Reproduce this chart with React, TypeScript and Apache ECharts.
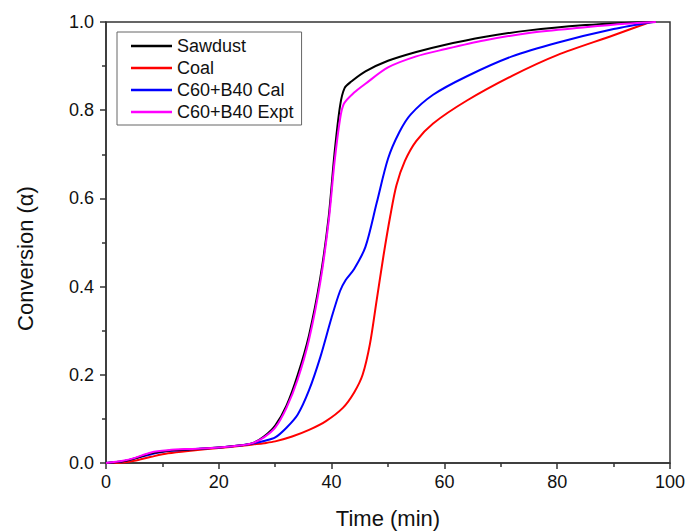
import React, { useEffect, useRef } from "react";
import * as echarts from "echarts";

const seriesNames = ["Sawdust", "Coal", "C60+B40 Cal", "C60+B40 Expt"];
const seriesColors = ["#000000", "#ff0000", "#0000ff", "#ff00ff"];

const sawdustTime = [0, 3, 5, 8, 11, 15, 20, 24, 26, 28, 30, 32, 34, 36, 38, 39.5, 40.5, 41.5, 42.3, 43.5, 46, 50, 55, 60, 67, 75, 85, 92, 97.5];
const sawdustConv = [0, 0.004, 0.01, 0.022, 0.028, 0.031, 0.035, 0.04, 0.045, 0.06, 0.085, 0.13, 0.2, 0.29, 0.42, 0.56, 0.7, 0.81, 0.85, 0.865, 0.888, 0.912, 0.932, 0.948, 0.966, 0.981, 0.993, 0.998, 1.0];

const coalTime = [0, 3, 5, 8, 11, 15, 20, 24, 26, 28, 30, 33, 36, 39, 42, 44, 45.5, 46.8, 48, 49.2, 50.4, 51.5, 53, 55, 58, 64, 72, 80, 90, 96.5];
const coalConv = [0, 0.001, 0.005, 0.014, 0.022, 0.028, 0.034, 0.039, 0.042, 0.045, 0.049, 0.06, 0.075, 0.095, 0.125, 0.16, 0.2, 0.27, 0.37, 0.47, 0.56, 0.63, 0.685, 0.73, 0.77, 0.822, 0.878, 0.925, 0.97, 1.0];

const calTime = [0, 3, 5, 8, 11, 15, 20, 24, 26, 28, 30, 32, 34, 36, 38, 40, 41.5, 42.5, 44, 46, 48, 50, 52, 54, 58, 64, 72, 80, 90, 97];
const calConv = [0, 0.004, 0.01, 0.02, 0.027, 0.031, 0.035, 0.04, 0.044, 0.05, 0.058, 0.08, 0.11, 0.165, 0.24, 0.33, 0.39, 0.415, 0.44, 0.49, 0.59, 0.69, 0.75, 0.79, 0.835, 0.877, 0.922, 0.953, 0.984, 1.0];

const exptTime = [0, 3, 5, 8, 11, 15, 20, 24, 26, 28, 30, 32, 34, 36, 38, 39.5, 40.5, 41.5, 42.2, 44, 46, 50, 55, 60, 67, 75, 85, 92, 97.5];
const exptConv = [0, 0.005, 0.011, 0.024, 0.029, 0.032, 0.035, 0.04, 0.045, 0.058, 0.08, 0.125, 0.19, 0.28, 0.41, 0.55, 0.68, 0.78, 0.815, 0.84, 0.86, 0.897, 0.922, 0.938, 0.958, 0.975, 0.988, 0.996, 1.0];

const xTicks = [0, 20, 40, 60, 80, 100];
const yTicks = [0, 0.2, 0.4, 0.6, 0.8, 1.0];

function pairs(t: number[], v: number[]) {
  return t.map((x, i) => [x, v[i]]);
}

export default function App() {
  const ref = useRef<HTMLDivElement>(null);
  useEffect(() => {
    if (!ref.current) return;
    const chart = echarts.init(ref.current, null, { renderer: "svg" });
    const font = "Liberation Sans, Arial, sans-serif";
    const data = [
      pairs(sawdustTime, sawdustConv),
      pairs(coalTime, coalConv),
      pairs(calTime, calConv),
      pairs(exptTime, exptConv),
    ];
    chart.setOption({
      animation: false,
      backgroundColor: "#ffffff",
      grid: {
        left: 106,
        right: 16,
        top: 22,
        bottom: 68,
        outerBoundsMode: "none",
        containLabel: false,
        show: true,
        borderColor: "#333",
        borderWidth: 1.5,
        backgroundColor: "transparent",
      },
      legend: {
        orient: "vertical",
        left: 117,
        top: 32,
        data: seriesNames,
        icon: "rect",
        itemWidth: 41,
        itemHeight: 2.5,
        itemGap: 4,
        padding: [5, 8, 4, 14],
        borderColor: "#666",
        borderWidth: 1,
        backgroundColor: "#fff",
        textStyle: { fontFamily: font, fontSize: 18, color: "#111", lineHeight: 18 },
      },
      xAxis: {
        type: "value",
        min: 0,
        max: 100,
        interval: 20,
        name: "Time (min)",
        nameLocation: "middle",
        nameGap: 44,
        nameTextStyle: { fontFamily: font, fontSize: 22, color: "#111" },
        axisLine: { show: true, lineStyle: { color: "#333", width: 1.5 } },
        axisTick: { show: true, length: 6, lineStyle: { color: "#333", width: 1.5 } },
        minorTick: { show: true, splitNumber: 2, length: 4, lineStyle: { color: "#333", width: 1.5 } },
        splitLine: { show: false },
        axisLabel: {
          fontFamily: font,
          fontSize: 18,
          color: "#111",
          margin: 10,
          formatter: (v: number) => (xTicks.includes(v) ? String(v) : ""),
        },
      },
      yAxis: {
        type: "value",
        min: 0,
        max: 1,
        interval: 0.2,
        name: "Conversion (α)",
        nameLocation: "middle",
        nameGap: 70,
        nameTextStyle: { fontFamily: font, fontSize: 22, color: "#111", padding: [0, 32, 0, 0] },
        axisLine: { show: true, lineStyle: { color: "#333", width: 1.5 } },
        axisTick: { show: true, length: 6, lineStyle: { color: "#333", width: 1.5 } },
        minorTick: { show: true, splitNumber: 2, length: 4, lineStyle: { color: "#333", width: 1.5 } },
        splitLine: { show: false },
        axisLabel: {
          fontFamily: font,
          fontSize: 18,
          color: "#111",
          margin: 12,
          formatter: (v: number) => {
            const t = yTicks.find((y) => Math.abs(y - v) < 1e-6);
            return t === undefined ? "" : t.toFixed(1);
          },
        },
      },
      series: seriesNames.map((name, i) => ({
        name,
        type: "line",
        data: data[i],
        showSymbol: false,
        symbol: "none",
        smooth: 0.3,
        lineStyle: { color: seriesColors[i], width: 2 },
        itemStyle: { color: seriesColors[i] },
        z: i === 3 ? 4 : i === 0 ? 3 : 2,
      })),
    });
    return () => chart.dispose();
  }, []);
  return <div ref={ref} style={{ width: 686, height: 531, position: "absolute", left: 0, top: 0 }} />;
}
